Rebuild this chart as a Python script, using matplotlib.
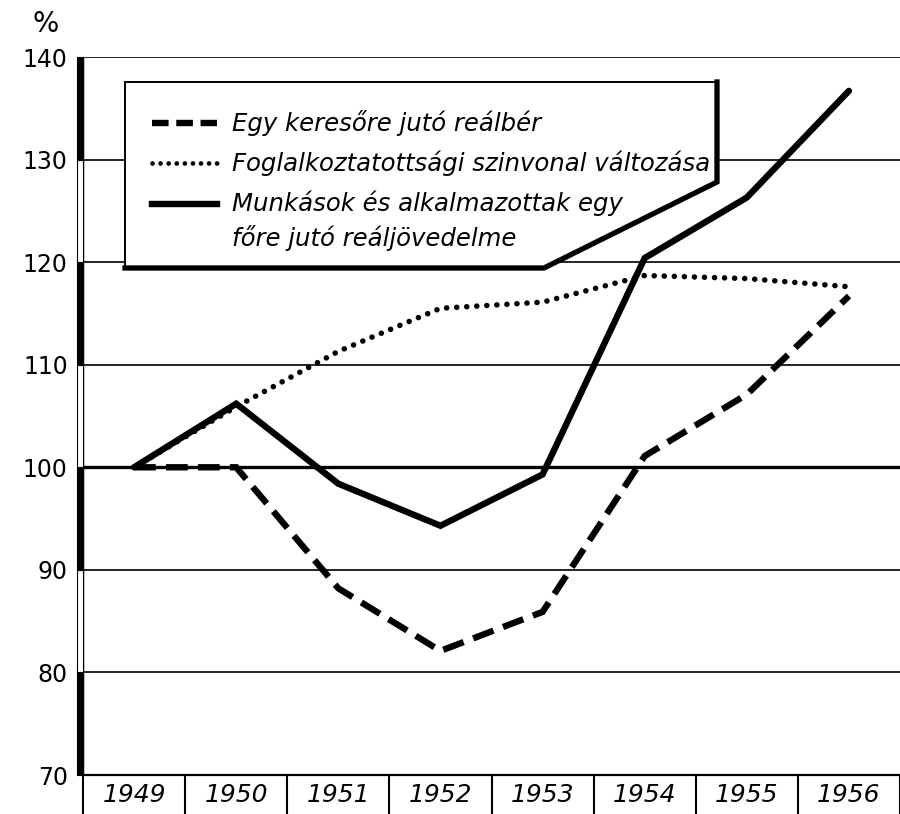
import matplotlib
matplotlib.use("Agg")
import matplotlib.pyplot as plt
from matplotlib import font_manager
from matplotlib.patches import Polygon, Rectangle
import matplotlib.transforms as mtrans

# ---------------- data ----------------
years = [1949, 1950, 1951, 1952, 1953, 1954, 1955, 1956]
real_wage_per_earner = [100, 100, 88.2, 82.1, 85.9, 101.1, 107.1, 116.7]
employment_level = [100, 105.9, 111.3, 115.5, 116.1, 118.7, 118.4, 117.6]
real_income_per_capita = [100, 106.2, 98.4, 94.3, 99.3, 120.4, 126.3, 136.7]
series_labels = [
    "Egy keresőre jutó reálbér",
    "Foglalkoztatottsági szinvonal változása",
    "Munkások és alkalmazottak egy\nfőre jutó reáljövedelme",
]
y_ticks = [70, 80, 90, 100, 110, 120, 130, 140]
y_unit = "%"

# ---------------- layout (pixels) ----------------
W, H = 900, 814
L, R, B, T = 83, 900, 775, 57
STEP = 103.4  # px per year

names = {f.name for f in font_manager.fontManager.ttflist}
legend_family = "Liberation Sans Narrow" if "Liberation Sans Narrow" in names else "DejaVu Sans"

fig = plt.figure(figsize=(W / 100, H / 100), dpi=100)
ax = fig.add_axes([L / W, (H - B) / H, (R - L) / W, (B - T) / H])
ax.set_xlim(years[0] - 0.5, years[0] - 0.5 + (R - L) / STEP)
ax.set_ylim(y_ticks[0], y_ticks[-1])


def fx(px):
    return (px - L) / (R - L)


def fy(py):
    return (B - py) / (B - T)


for s in ("top", "right"):
    ax.spines[s].set_visible(False)
ax.spines["left"].set_linewidth(1.0)
ax.spines["bottom"].set_linewidth(1.6)

# horizontal grid lines
for v in y_ticks[1:]:
    ax.axhline(v, color="black", lw=2.4 if v == 100 else 1.2, zorder=1)

# alternating scale bar on the y axis
blend = mtrans.blended_transform_factory(ax.transAxes, ax.transData)
for i, v in enumerate(y_ticks[:-1]):
    filled = (i % 2 == 0)
    ax.add_patch(Rectangle((fx(77), v), fx(83) - fx(77), 10, transform=blend,
                           facecolor="black" if filled else "white",
                           edgecolor="black", lw=0.8, clip_on=False, zorder=4))

# legend box (pentagon)
poly_pts = [(fx(125), fy(82)), (fx(717), fy(82)), (fx(717), fy(182)),
            (fx(544), fy(268)), (fx(125), fy(268))]
ax.add_patch(Polygon(poly_pts, closed=True, transform=ax.transAxes,
                     facecolor="white", edgecolor="black", lw=1.4, zorder=2))
ax.plot([p[0] for p in poly_pts[1:]], [p[1] for p in poly_pts[1:]],
        transform=ax.transAxes, color="black", lw=3.8,
        solid_joinstyle="miter", zorder=2.5)

# data lines
dash_style = (0, (3.4, 1.6))
dot_style = (0, (0.01, 1.8))
ax.plot(years, real_wage_per_earner, color="black", lw=4.6, linestyle=dash_style,
        dash_capstyle="butt", dash_joinstyle="miter", zorder=3)
ax.plot(years, employment_level, color="black", lw=4.0, linestyle=dot_style,
        dash_capstyle="round", zorder=3)
ax.plot(years, real_income_per_capita, color="black", lw=4.6,
        solid_capstyle="round", solid_joinstyle="miter", zorder=3)

# legend content
rows = [123, 163, 204]
hx0, hx1 = fx(152), fx(217)
ax.plot([hx0, hx1], [fy(rows[0])] * 2, transform=ax.transAxes, color="black",
        lw=4.6, linestyle=(0, (2.6, 1.2)), dash_capstyle="butt", zorder=3)
ax.plot([hx0, hx1], [fy(rows[1])] * 2, transform=ax.transAxes, color="black",
        lw=3.4, linestyle=(0, (0.01, 1.7)), dash_capstyle="round", zorder=3)
ax.plot([hx0, hx1], [fy(rows[2])] * 2, transform=ax.transAxes, color="black",
        lw=4.6, zorder=3)

text_rows = [123, 163, 203, 238]
lines = []
for lab in series_labels:
    lines.extend(lab.split("\n"))
legend_texts = []
for txt, py in zip(lines, text_rows):
    legend_texts.append(ax.text(fx(232), fy(py), txt, transform=ax.transAxes,
                                ha="left", va="center", style="italic",
                                family=legend_family, fontsize=18, zorder=4))

# axes ticks
ax.set_yticks(y_ticks)
ax.set_yticklabels([str(v) for v in y_ticks], fontsize=17)
ax.tick_params(axis="y", length=0, pad=11)

ax.set_xticks(years)
ax.set_xticklabels([str(y) for y in years], fontsize=18, style="italic")
ax.set_xticks([y - 0.5 for y in years] + [years[-1] + 0.5], minor=True)
ax.tick_params(axis="x", which="major", length=0, pad=6)
ax.tick_params(axis="x", which="minor", length=30, width=1.5, direction="out")

fig.text(46 / W, 1 - 24 / H, y_unit, ha="center", va="center", fontsize=20)

# fit legend text width to reference
fig.canvas.draw()
r = fig.canvas.get_renderer()
bb = legend_texts[1].get_window_extent(r)
scale = 480 / bb.width
for t in legend_texts:
    t.set_fontsize(18 * scale)

fig.savefig("out.png", dpi=100)
